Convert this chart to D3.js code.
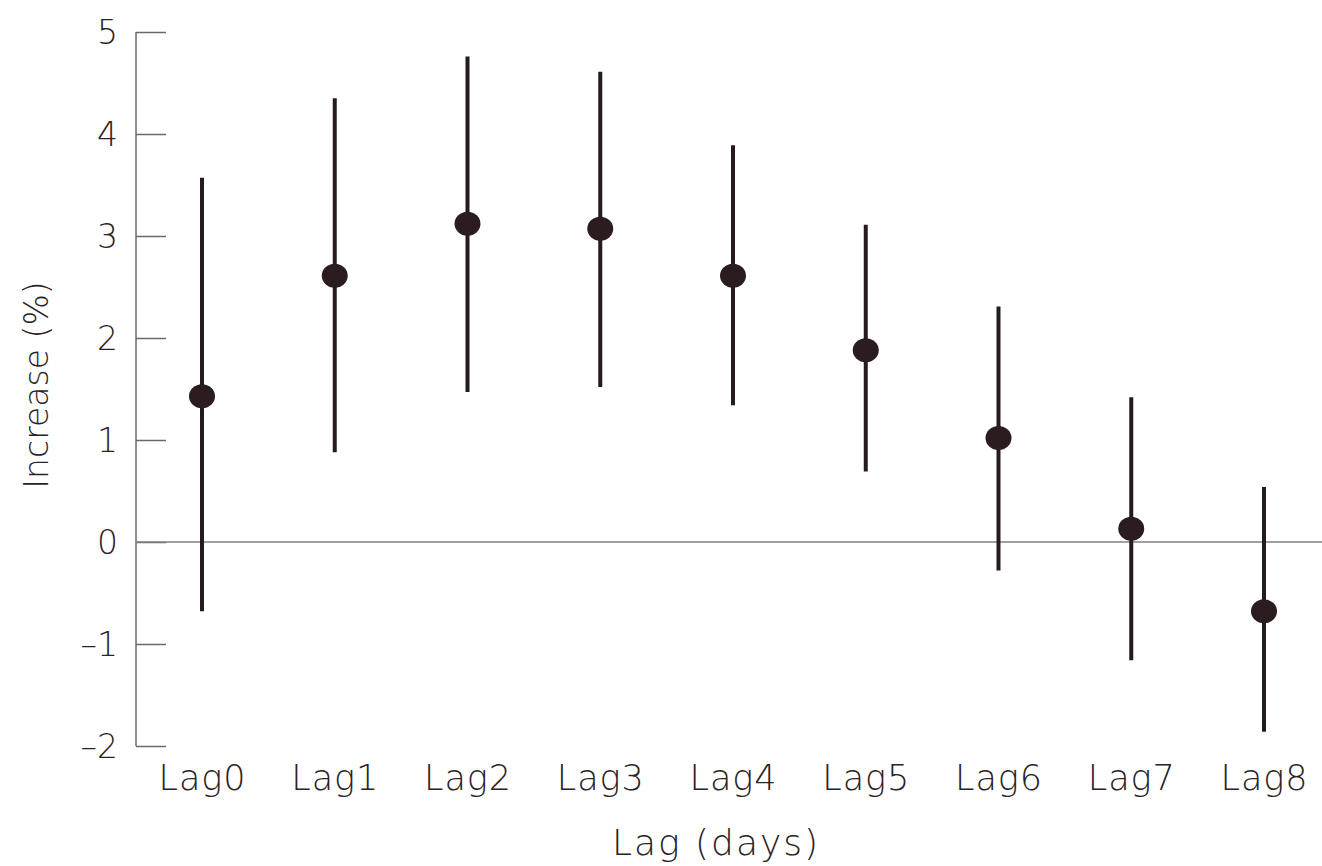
<!DOCTYPE html>
<html>
<head>
<meta charset="utf-8">
<script src="https://cdn.jsdelivr.net/npm/d3@7"></script>
<style>
  body { margin: 0; background: #fff; }
  text { font-family: "DejaVu Sans", "Lato", sans-serif; fill: #2a2226; }
</style>
</head>
<body>
<svg width="1322" height="866"></svg>
<script>
// data
var lags = ["Lag0", "Lag1", "Lag2", "Lag3", "Lag4", "Lag5", "Lag6", "Lag7", "Lag8"];
var estimate = [1.43, 2.61, 3.12, 3.07, 2.61, 1.88, 1.02, 0.13, -0.68];
var lower = [-0.68, 0.88, 1.47, 1.52, 1.34, 0.69, -0.28, -1.16, -1.86];
var upper = [3.57, 4.35, 4.76, 4.61, 3.89, 3.11, 2.31, 1.42, 0.54];
var yTicks = [-2, -1, 0, 1, 2, 3, 4, 5];

var dataset = lags.map(function(d, i) {
  return { lag: d, est: estimate[i], lo: lower[i], hi: upper[i] };
});

var svg = d3.select("svg");

var xScale = d3.scalePoint()
  .domain(lags)
  .range([202, 1264]);

var yScale = d3.scaleLinear()
  .domain([-2, 5])
  .range([746, 32]);

// axis-y, ticks pointing inward
var yAxis = svg.append("g")
  .attr("transform", "translate(136,0)")
  .call(d3.axisRight(yScale)
    .tickValues(yTicks)
    .tickSize(30)
    .tickFormat(function(d) { return d < 0 ? "\u2013" + Math.abs(d) : d; }));
yAxis.select(".domain")
  .attr("d", "M0," + yScale(5) + "V" + yScale(-2))
  .attr("stroke", "#6e6668")
  .attr("stroke-width", 1.5);
yAxis.selectAll(".tick line")
  .attr("stroke", "#6e6668")
  .attr("stroke-width", 1.5);
yAxis.selectAll(".tick text")
  .attr("x", -18)
  .attr("dy", "0.36em")
  .attr("text-anchor", "end")
  .attr("font-size", "33px")
  .attr("font-weight", 300)
  .style("fill", "#2a2226");

// zero line
svg.append("line")
  .attr("x1", 136)
  .attr("x2", 1322)
  .attr("y1", yScale(0))
  .attr("y2", yScale(0))
  .attr("stroke", "#808080")
  .attr("stroke-width", 1.5);

// axis-x labels (no line)
var xAxis = svg.append("g")
  .attr("transform", "translate(0,746)")
  .call(d3.axisBottom(xScale).tickSize(0).tickPadding(19));
xAxis.select(".domain").remove();
xAxis.selectAll(".tick text")
  .attr("font-size", "35px")
  .attr("font-weight", 300)
  .attr("letter-spacing", "1px")
  .style("fill", "#2a2226");

// error bars
svg.append("g").selectAll("line")
  .data(dataset)
  .enter().append("line")
  .attr("x1", function(d) { return xScale(d.lag); })
  .attr("x2", function(d) { return xScale(d.lag); })
  .attr("y1", function(d) { return yScale(d.hi); })
  .attr("y2", function(d) { return yScale(d.lo); })
  .attr("stroke", "#241a20")
  .attr("stroke-width", 4);

// point estimates
svg.append("g").selectAll("ellipse")
  .data(dataset)
  .enter().append("ellipse")
  .attr("cx", function(d) { return xScale(d.lag); })
  .attr("cy", function(d) { return yScale(d.est); })
  .attr("rx", 13)
  .attr("ry", 12)
  .attr("fill", "#2a1c1f");

// axis titles
svg.append("text")
  .attr("transform", "translate(48,385) rotate(-90)")
  .attr("text-anchor", "middle")
  .attr("font-size", "33px")
  .attr("font-weight", 300)
  .text("Increase (%)");

svg.append("text")
  .attr("x", 716)
  .attr("y", 855)
  .attr("text-anchor", "middle")
  .attr("font-size", "36px")
  .attr("font-weight", 300)
  .attr("letter-spacing", "2px")
  .text("Lag (days)");
</script>
</body>
</html>
